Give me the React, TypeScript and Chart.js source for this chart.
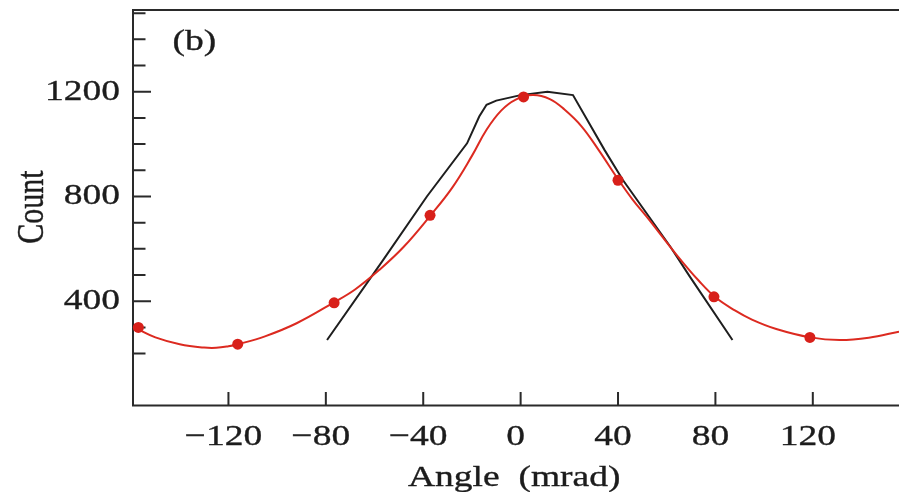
import React, { useEffect, useRef } from "react";
import { Chart, registerables } from "chart.js";

Chart.register(...registerables);

// ---- axis ranges ----
const xMin = -159.2;
const xMax = 155.4;
const yMin = 0;
const yMax = 1512;

// ---- black measured profile (polyline) ----
const blackX = [-79.5, -56.5, -38.5, -22, -17, -14, -10, 0, 11, 21.5, 34.5, 42, 61.5, 69.5, 87];
const blackY = [252, 557, 800, 1003, 1105, 1150, 1166, 1187, 1200, 1187, 977, 863, 608, 494, 252];

// ---- red fitted curve ----
const fitX = [-159.2, -150, -140, -130, -125, -120, -116, -105, -92, -77, -68, -58, -48, -37, -28, -20, -14, -8, -2, 5, 12, 18, 25, 32, 40, 46, 52, 60, 66, 73, 80, 88, 95, 105, 119, 131, 143, 155.4];
const fitY = [302, 262, 236, 223, 222, 228, 236, 266, 316, 394, 445, 520, 608, 728, 835, 955, 1055, 1128, 1170, 1187, 1172, 1132, 1068, 978, 866, 788, 720, 625, 555, 480, 415, 365, 330, 294, 262, 252, 261, 284];

// ---- red data points ----
const dotX = [-157, -116.2, -76.6, -37.2, 1.2, 40, 79.4, 118.8];
const dotY = [300, 236, 394, 728, 1180, 862, 417, 262];

// ---- ticks & labels ----
const xTicks = [-120, -80, -40, 0, 40, 80, 120];
const xTickLabels = ["\u2212120", "\u221280", "\u221240", "0", "40", "80", "120"];
const yMajorTicks = [400, 800, 1200];
const yTickLabels = ["400", "800", "1200"];
const yMinorTicks = [200, 300, 500, 600, 700, 900, 1000, 1100, 1300, 1400, 1500];
const panelLabel = "(b)";
const xTitle = "Angle  (mrad)";
const yTitle = "Count";

const FONT = '"Liberation Serif", "Times New Roman", serif';
const SX = 1.25;
const INK = "#1c1c1c";
const AXIS = "#2a2a2a";

function drawText(
  ctx: CanvasRenderingContext2D,
  text: string,
  x: number,
  y: number,
  size: number,
  align: CanvasTextAlign,
  baseline: CanvasTextBaseline,
  rotate = false
) {
  ctx.save();
  ctx.translate(x, y);
  ctx.scale(SX, 1);
  if (rotate) ctx.rotate(-Math.PI / 2);
  ctx.font = `${size}px ${FONT}`;
  ctx.fillStyle = INK;
  ctx.strokeStyle = INK;
  ctx.lineWidth = 0.35;
  ctx.textAlign = align;
  ctx.textBaseline = baseline;
  ctx.fillText(text, 0, 0);
  ctx.strokeText(text, 0, 0);
  ctx.restore();
}

const paperAxes = {
  id: "paperAxes",
  beforeDatasetsDraw(chart: any) {
    const { ctx, chartArea: a, scales } = chart;
    const xs = scales.x;
    const ys = scales.y;
    ctx.save();
    ctx.strokeStyle = AXIS;
    ctx.lineWidth = 2;
    ctx.lineCap = "butt";
    ctx.beginPath();
    ctx.moveTo(a.left - 1, a.top);
    ctx.lineTo(a.right, a.top);
    ctx.moveTo(a.left, a.top - 1);
    ctx.lineTo(a.left, a.bottom + 0.5);
    ctx.moveTo(a.left - 1, a.bottom - 0.5);
    ctx.lineTo(a.right, a.bottom - 0.5);
    yMinorTicks.forEach((v) => {
      const py = ys.getPixelForValue(v);
      ctx.moveTo(a.left, py);
      ctx.lineTo(a.left + 12.5, py);
    });
    yMajorTicks.forEach((v) => {
      const py = ys.getPixelForValue(v);
      ctx.moveTo(a.left, py);
      ctx.lineTo(a.left + 18, py);
    });
    xTicks.forEach((v) => {
      const px = xs.getPixelForValue(v);
      ctx.moveTo(px, a.bottom - 0.5);
      ctx.lineTo(px, a.bottom - 14);
    });
    ctx.stroke();
    ctx.restore();
  },
  afterDraw(chart: any) {
    const { ctx, chartArea: a, scales } = chart;
    const xs = scales.x;
    const ys = scales.y;
    yMajorTicks.forEach((v, i) => {
      drawText(ctx, yTickLabels[i], 120, ys.getPixelForValue(v), 30, "right", "middle");
    });
    xTicks.forEach((v, i) => {
      drawText(ctx, xTickLabels[i], xs.getPixelForValue(v) - 5, 445, 30, "center", "alphabetic");
    });
    drawText(ctx, panelLabel, a.left + 39.5, 50, 30, "left", "alphabetic");
    drawText(ctx, xTitle, 408, 486, 30, "left", "alphabetic");
    drawText(ctx, yTitle, 42.5, 207, 30, "center", "alphabetic", true);
  },
};

export default function App() {
  const ref = useRef<HTMLCanvasElement | null>(null);

  useEffect(() => {
    if (!ref.current) return;
    const chart = new Chart(ref.current, {
      type: "scatter",
      data: {
        datasets: [
          {
            label: "data",
            data: dotX.map((x, i) => ({ x, y: dotY[i] })),
            showLine: false,
            pointRadius: 5.5,
            pointHoverRadius: 5.5,
            pointBackgroundColor: "#d8201a",
            pointBorderColor: "#d8201a",
            pointBorderWidth: 0,
            clip: false as any,
          },
          {
            label: "fit",
            data: fitX.map((x, i) => ({ x, y: fitY[i] })),
            showLine: true,
            borderColor: "#dc2a20",
            borderWidth: 2,
            pointRadius: 0,
            tension: 0.4,
          },
          {
            label: "measured",
            data: blackX.map((x, i) => ({ x, y: blackY[i] })),
            showLine: true,
            borderColor: "#1e1e1e",
            borderWidth: 2,
            pointRadius: 0,
            tension: 0,
          },
        ],
      },
      options: {
        responsive: false,
        animation: false,
        devicePixelRatio: 1,
        events: [],
        layout: { autoPadding: false, padding: { left: 133, right: 0, top: 10, bottom: 86 } },
        plugins: { legend: { display: false }, tooltip: { enabled: false } },
        scales: {
          x: { type: "linear", min: xMin, max: xMax, display: false },
          y: { type: "linear", min: yMin, max: yMax, display: false },
        },
      },
      plugins: [paperAxes],
    });
    return () => chart.destroy();
  }, []);

  return (
    <div style={{ position: "fixed", left: 0, top: 0, width: 899, height: 492, background: "#fff" }}>
      <canvas ref={ref} width={899} height={492} style={{ display: "block" }} />
    </div>
  );
}
